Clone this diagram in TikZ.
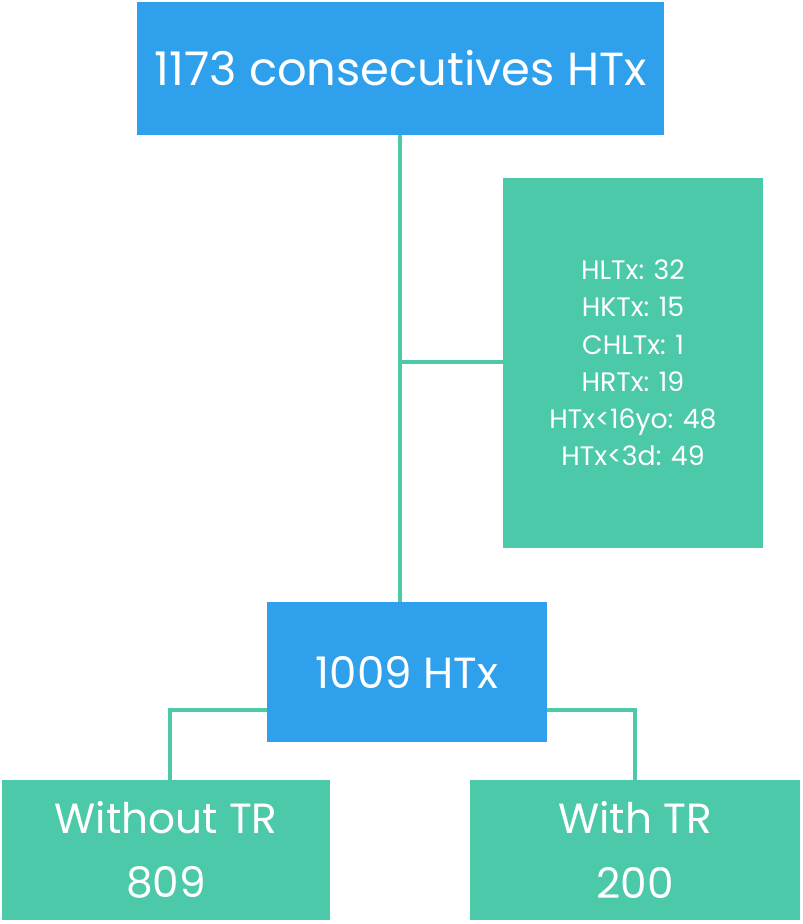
\documentclass[tikz,border=0pt]{standalone}
\usepackage{fontspec}
\setmainfont{Poppins}
\definecolor{htblue}{HTML}{2EA0EC}
\definecolor{htgreen}{HTML}{4CC9A8}
\tikzset{
  bluebox/.style={fill=htblue,text=white,inner sep=0pt},
  greenbox/.style={fill=htgreen,text=white,inner sep=0pt,align=center},
  link/.style={draw=htgreen,line width=2.2pt}
}
\begin{document}
\begin{tikzpicture}[x=0.025cm,y=-0.025cm]
\useasboundingbox (0,0) rectangle (802,924);
\node[bluebox,minimum width=527*0.025cm,minimum height=133*0.025cm,font=\fontsize{33}{36}\selectfont] (top) at (400.5,68.5) {1173 consecutives HTx};
\node[greenbox,minimum width=260*0.025cm,minimum height=370*0.025cm,font=\fontsize{19}{26.5}\selectfont] (excl) at (633,363)
  {HLTx: 32\\HKTx: 15\\CHLTx: 1\\HRTx: 19\\HTx<16yo: 48\\HTx<3d: 49};
\node[bluebox,minimum width=280*0.025cm,minimum height=140*0.025cm,font=\fontsize{31}{34}\selectfont] (mid) at (407,672) {1009 HTx};
\node[greenbox,minimum width=328*0.025cm,minimum height=140*0.025cm,font=\fontsize{30}{46}\selectfont] (left) at (166,850) {Without TR\\809};
\node[greenbox,minimum width=330*0.025cm,minimum height=140*0.025cm,font=\fontsize{30}{46}\selectfont] (right) at (635,850) {With TR\\200};
\coordinate (j) at (400,362);
\draw[link] (top.south -| j) -- (mid.north -| j);
\draw[link] (j) -- (excl.west |- j);
\draw[link] (mid.west |- 0,710) -| (left.north -| 170,0);
\draw[link] (mid.east |- 0,710) -| (right.north);
\end{tikzpicture}
\end{document}
